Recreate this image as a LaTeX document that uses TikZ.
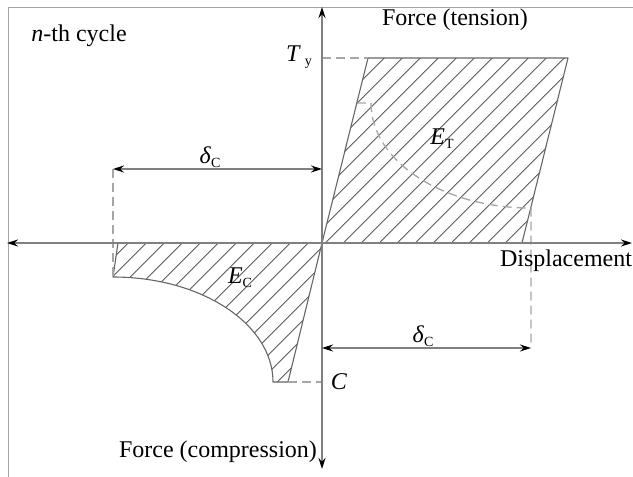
\documentclass[tikz,border=0pt]{standalone}
\usepackage{fontspec}
\setmainfont{Liberation Serif}
\usetikzlibrary{arrows.meta}
\newcommand{\mysub}[1]{\raisebox{-4pt}{\fontsize{14}{14}\selectfont #1}}
\tikzset{
  border/.style={draw=black!35, line width=0.9pt},
  axis/.style={draw=black!50, line width=1.5pt, arrows={Stealth[length=11pt,width=7pt,color=black]-Stealth[length=11pt,width=7pt,color=black]}},
  dimline/.style={draw=black!50, line width=1.1pt, arrows={Stealth[length=11pt,width=7pt,color=black]-Stealth[length=11pt,width=7pt,color=black]}},
  outline/.style={draw=black!60, line width=1.1pt, line join=round},
  dashline/.style={draw=black!35, line width=1.3pt, dash pattern=on 9pt off 5pt},
  hatch/.style={draw=black!65, line width=0.9pt},
  lbl/.style={inner sep=0pt, font=\fontsize{24}{28}\selectfont}
}
\begin{document}
\begin{tikzpicture}[x=1pt,y=-1pt]
\useasboundingbox (0,0) rectangle (633,477);
% key points
\coordinate (O) at (322,243);
\coordinate (A) at (368,58);
\coordinate (B) at (568,58);
\coordinate (D) at (522,243);
\coordinate (E) at (288,382);
\coordinate (F) at (273,382);
\coordinate (G) at (113,277);
\coordinate (H) at (118,243);
\coordinate (TyAx) at (322,58);
\coordinate (CAx) at (322,382);
\coordinate (Tc0) at (357,103);
\coordinate (Tc1) at (371,103);
\coordinate (Tc2) at (531,208);
\coordinate (Tv) at (531,348);
\coordinate (DLa) at (113,169);
\coordinate (DLb) at (322,169);
\coordinate (DRa) at (322,348);
\coordinate (AxT) at (322,7);
\coordinate (AxB) at (322,469);
\coordinate (AxL) at (7,243);
\coordinate (AxR) at (632,243);
\coordinate (BrA) at (8,477);
\coordinate (BrB) at (8,7);
\coordinate (BrC) at (633,7);
% frame
\draw[border] (BrA) -- (BrB) -- (BrC);
% hatching tension
\begin{scope}
  \clip (O) -- (A) -- (B) -- (D) -- cycle;
  \foreach \k in {0,...,20} {
    \pgfmathsetmacro{\c}{424.3+18*\k}
    \draw[hatch] (\c,0) -- (\c-700,700);
  }
\end{scope}
% hatching compression
\begin{scope}
  \clip (O) -- (E) -- (F) .. controls (273,324) and (201.4,277) .. (G) -- (H) -- cycle;
  \foreach \k in {0,...,19} {
    \pgfmathsetmacro{\c}{353.3+18*\k}
    \draw[hatch] (\c,0) -- (\c-700,700);
  }
\end{scope}
% outlines
\draw[outline] (O) -- (A) -- (B) -- (D);
\draw[outline] (O) -- (E) -- (F) .. controls (273,324) and (201.4,277) .. (G) -- (H);
% dashed lines
\draw[dashline] (TyAx) -- (A);
\draw[dashline] (Tc0) -- (Tc1) .. controls (371,161) and (442.6,208) .. (Tc2) -- (Tv);
\draw[dashline] (DLa) -- (G);
\draw[dashline] (E) -- (CAx);
% axes
\draw[axis] (AxB) -- (AxT);
\draw[axis] (AxL) -- (AxR);
% dimension arrows
\draw[dimline] (DLa) -- (DLb);
\draw[dimline] (DRa) -- (Tv);
% labels
\node[lbl] (ncyc) at (79,36) {\textit{n}-th cycle};
\node[lbl] (ty) at (299,57) {\textit{T}\,\mysub{y}};
\node[lbl] (ften) at (455,20) {Force (tension)};
\node[lbl] (et) at (442,139) {\textit{E}\mysub{T}};
\node[lbl] (dc1) at (210,157) {\textit{δ}\mysub{C}};
\node[lbl] (dc2) at (423,336) {\textit{δ}\mysub{C}};
\node[lbl] (ec) at (240,278) {\textit{E}\mysub{C}};
\node[lbl] (cl) at (339,382) {\textit{C}};
\node[lbl] (disp) at (566,261) {Displacement};
\node[lbl] (fcomp) at (218,452) {Force (compression)};
\end{tikzpicture}
\end{document}
